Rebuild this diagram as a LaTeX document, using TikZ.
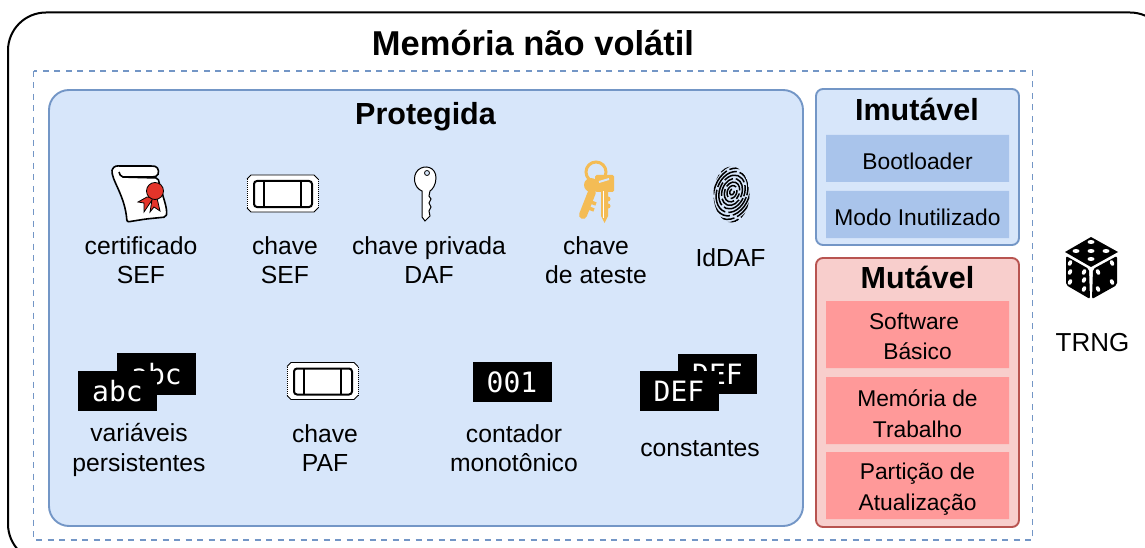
\documentclass[tikz,border=0pt]{standalone}
\usepackage{fontspec}
\setmainfont{Liberation Sans}
\newfontfamily\codefont{DejaVu Sans Mono}
\usepackage{tikz}
\definecolor{bluefill}{HTML}{D7E6FA}
\definecolor{bluedraw}{HTML}{7396C6}
\definecolor{bluecell}{HTML}{A9C4EB}
\definecolor{redfill}{HTML}{F8CECC}
\definecolor{reddraw}{HTML}{B85450}
\definecolor{redcell}{HTML}{FF9999}
\definecolor{gold}{HTML}{F4BC55}
\definecolor{seal}{HTML}{E3342A}
\tikzset{
  panel/.style={line width=1.9pt, rounded corners=#1},
  title/.style={font=\fontsize{30.5}{34}\selectfont\bfseries},
  label/.style={align=center, font=\fontsize{24.7}{29.5}\selectfont},
  cell/.style={align=center, inner sep=0pt, font=\fontsize{22.8}{30.5}\selectfont},
  codebox/.style={fill=black, text=white, minimum width=79pt, minimum height=40pt, inner sep=0pt, font=\fontsize{28}{30}\selectfont\codefont},
  ticket/.pic={
    \fill[white] (4,0) -- (67,0) -- (71,4) -- (71,33) -- (67,37) -- (4,37) -- (0,33) -- (0,4) -- cycle;
    \draw[line width=0.9pt] (0,4) -- (4,0) -- (67,0) -- (71,4) (71,33) -- (67,37) -- (4,37) -- (0,33);
    \draw[line width=1pt, dash pattern=on 1pt off 1pt] (0,4) -- (0,33) (71,4) -- (71,33);
    \draw[line width=2pt, rounded corners=3pt] (7,6) rectangle (65,32);
    \draw[line width=1.8pt] (17,6) -- (17,32) (54,6) -- (54,32);
  }
}
\begin{document}
\begin{tikzpicture}[x=1pt,y=-1pt]
\useasboundingbox (0,0) rectangle (1145,548);
\clip (0,0) rectangle (1145,548);
\fill[white] (0,0) rectangle (1145,548);
\draw[line width=2pt, rounded corners=38pt] (8,12.5) rectangle (1168,562);
\draw[bluedraw, line width=1.9pt, dash pattern=on 6pt off 5.5pt] (33.5,71) rectangle (1032.5,540);
\filldraw[panel=20pt, fill=bluefill, draw=bluedraw] (49,90) rectangle (803,526);
\filldraw[panel=7pt, fill=bluefill, draw=bluedraw] (816,89) rectangle (1019,245);
\filldraw[panel=7pt, fill=redfill, draw=reddraw] (816,258) rectangle (1019,527);
\fill[bluecell] (826,135) rectangle (1009,182) (826,191) rectangle (1009,238);
\fill[redcell] (826,301) rectangle (1009,368) (826,377) rectangle (1009,444) (826,452) rectangle (1009,519);
\node[title, font=\fontsize{34.5}{38}\selectfont\bfseries] (memoria) at (533,43) {Memória não volátil};
\node[title] (protegida) at (425.5,117) {Protegida};
\node[title] (imutavel) at (917,109) {Imutável};
\node[title] (mutavel) at (917.5,277) {Mutável};
\node[cell] (bootloader) at (917.5,161.5) {Bootloader};
\node[cell] (inutilizado) at (917.5,217.5) {Modo Inutilizado};
\node[cell] (software) at (917.5,336.5) {\mbox{Software\kern7pt}\\ Básico};
\node[cell] (trabalho) at (917.5,413.5) {Memória de\\ Trabalho};
\node[cell] (particao) at (917.5,489) {Partição de\\ Atualização};
\node[label] (certificado) at (141,260) {certificado\\ SEF};
\node[label] (chaveSEF) at (285,260) {chave\\ SEF};
\node[label] (chaveDAF) at (429,260) {chave privada\\ DAF};
\node[label] (ateste) at (596,260) {chave\\ de ateste};
\node[label] (iddaf) at (730.5,258) {IdDAF};
\node[label] (variaveis) at (139,450) {variáveis\\ persistentes};
\node[label] (chavePAF) at (325,448) {chave\\ PAF};
\node[label] (contador) at (514,448) {contador\\ monotônico};
\node[label] (constantes) at (700,449) {constantes};
\node[label, font=\fontsize{26}{30}\selectfont] (trng) at (1092.5,343) {TRNG};
\node[codebox, minimum height=42pt] (abcB) at (156.5,374) {abc};
\node[codebox] (abcA) at (117.5,391) {abc};
\node[codebox] (contagem) at (512,382) {001};
\node[codebox] (defB) at (717.5,374) {DEF};
\node[codebox] (defA) at (679,391) {DEF};
\pic at (247,175) {ticket};
\pic at (287,362.5) {ticket};
\filldraw[fill=white, line width=1.6pt, rounded corners=2pt] (112,170) .. controls (114,165) and (118,166) .. (122,166) -- (153,166) .. controls (159,167) and (160,175) .. (154,177) -- (121,177);
\filldraw[fill=white, line width=1.6pt, rounded corners=2pt] (112,170) .. controls (111,180) and (125,195) .. (127,222) -- (146,219) -- (166,217) .. controls (168,208) and (162,195) .. (158,178) -- (121,177) -- (119,172);
\filldraw[fill=seal, line width=0.8pt] (147,197) -- (138,202) -- (144,203) -- (144,212) -- (152,200) -- (150,212) -- (154,207) -- (160,211) -- (157,198) -- cycle;
\filldraw[fill=seal, line width=0.8pt] (155,191) circle (8.5);
\filldraw[fill=white, line width=1pt] (422,191) .. controls (414,188) and (412,176) .. (418,170) .. controls (425,164) and (436,167) .. (436,178) .. controls (436,185) and (432,190) .. (430,191) -- (429,196) -- (431,199) -- (429,203) -- (431,207) -- (429,211) -- (430,216) -- (425,221) -- (422,217) -- cycle;
\filldraw[fill=bluefill, line width=0.8pt] (427,173) circle (2.5);
\draw[gold, line width=3pt] (596,172) circle (10);
\draw[gold, line width=8pt, line cap=round] (592,192) -- (583,215);
\draw[gold, line width=3.5pt] (586,207) -- (594,210) (588,201) -- (596,204);
\fill[gold] (591,185) circle (7);
\fill[gold, rounded corners=1.5pt] (595,175) rectangle (614,192);
\fill[gold] (601,190) -- (608,190) -- (608,216) -- (604.5,223) -- (601,216) -- cycle;
\fill[gold] (608,199) circle (2.5) (608,206) circle (2.5);
\draw[white, line width=0.8pt] (603.5,191) -- (603.5,218);
\draw[bluefill, line width=2pt] (599,182) -- (609,179);
\begin{scope}
\clip (731.5,194.5) ellipse (18 and 28);
\foreach \rad [count=\idx] in {3,6.6,...,32}
  \draw[line width=1.5pt, rotate around={-20:(732,192)}, dash pattern=on {14+\idx*2}pt off 3pt, dash phase=\idx*5pt] (732,192) ellipse ({\rad*0.72} and {\rad});
\end{scope}
\fill[black] (1091,237) -- (1118,252) -- (1091,267) -- (1065,252) -- cycle;
\fill[black, rounded corners=2pt] (1066,256) -- (1089,269) -- (1090,299) -- (1066,285) -- cycle;
\fill[black, rounded corners=2pt] (1117,256) -- (1093,269) -- (1092,299) -- (1117,285) -- cycle;
\foreach \px/\py in {1091/242, 1076/251, 1091/251, 1106/251, 1091/259}
  \fill[white] (\px,\py) ellipse (3.5 and 2);
\foreach \px/\py in {1070/263, 1070/272, 1070/282, 1084/272, 1084/280, 1084/289}
  \fill[white, rotate around={-25:(\px,\py)}] (\px,\py) ellipse (2 and 3);
\foreach \px/\py in {1112/263, 1112/282, 1098/272, 1098/289}
  \fill[white, rotate around={25:(\px,\py)}] (\px,\py) ellipse (2 and 3);
\end{tikzpicture}
\end{document}
